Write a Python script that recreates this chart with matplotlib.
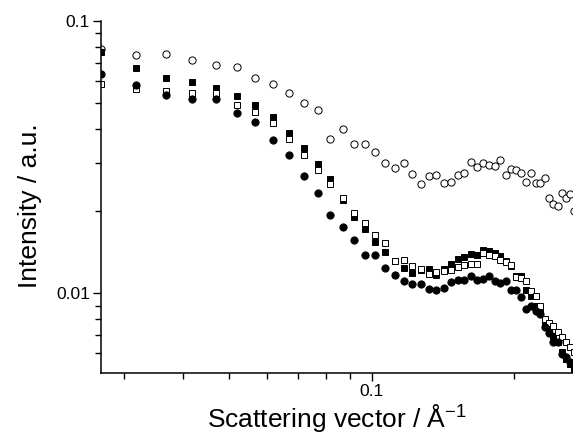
import matplotlib
matplotlib.use("Agg")
import matplotlib.pyplot as plt
from matplotlib.ticker import NullFormatter, FixedLocator, FixedFormatter

plt.rcParams['font.family'] = ['Liberation Sans', 'DejaVu Sans']
plt.rcParams['mathtext.fontset'] = 'custom'
plt.rcParams['mathtext.rm'] = 'Liberation Sans'
plt.rcParams['mathtext.it'] = 'Liberation Sans:italic'
plt.rcParams['mathtext.bf'] = 'Liberation Sans:bold'

q = [0.0268, 0.0318, 0.0368, 0.0418, 0.0468, 0.0518, 0.0568, 0.0618, 0.0668, 0.0718,
     0.0768, 0.0818, 0.0868, 0.0918, 0.0968, 0.1018, 0.1068, 0.1118, 0.1168, 0.1218,
     0.1268, 0.1318, 0.1368, 0.1418, 0.1468, 0.1518, 0.1568, 0.1618, 0.1668, 0.1718,
     0.1768, 0.1818, 0.1868, 0.1918, 0.1968, 0.2018, 0.2068, 0.2118, 0.2168, 0.2218,
     0.2268, 0.2318, 0.2368, 0.2418, 0.2468, 0.2518, 0.2568, 0.2618, 0.2668]

open_circles = [0.0787, 0.0746, 0.0754, 0.0715, 0.0686, 0.0676, 0.0616, 0.0587, 0.0541, 0.0499,
                0.0469, 0.0367, 0.0399, 0.0352, 0.0353, 0.0329, 0.0300, 0.0288, 0.0300, 0.0273,
                0.0252, 0.0270, 0.0272, 0.0254, 0.0256, 0.0272, 0.0275, 0.0303, 0.0291, 0.0300,
                0.0296, 0.0293, 0.0307, 0.0272, 0.0285, 0.0282, 0.0276, 0.0255, 0.0275, 0.0254,
                0.0254, 0.0264, 0.0223, 0.0213, 0.0208, 0.0233, 0.0224, 0.0232, 0.0200]

filled_squares = [0.0765, 0.0668, 0.0616, 0.0594, 0.0567, 0.0527, 0.0489, 0.0443, 0.0388, 0.0340,
                  0.0299, 0.0263, 0.0219, 0.0191, 0.0172, 0.0154, 0.01415, 0.01308, 0.01240, 0.01189,
                  0.01217, 0.01229, 0.01162, 0.01222, 0.01275, 0.01338, 0.01356, 0.01388, 0.01376, 0.01436,
                  0.01427, 0.01400, 0.01364, 0.01308, 0.01254, 0.01152, 0.01152, 0.01029, 0.00973, 0.00894,
                  0.00852, 0.00780, 0.00729, 0.00693, 0.00659, 0.00605, 0.00575, 0.00551, 0.00528]

open_squares = [0.0584, 0.0560, 0.0551, 0.0541, 0.0541, 0.0489, 0.0464, 0.0420, 0.0368, 0.0322,
                0.0284, 0.0252, 0.0224, 0.0196, 0.0181, 0.0163, 0.0153, 0.01316, 0.01327, 0.01254,
                0.01222, 0.01178, 0.01194, 0.01205, 0.01219, 0.01246, 0.01264, 0.01283, 0.01283, 0.01403,
                0.01376, 0.01370, 0.01327, 0.01305, 0.01268, 0.01145, 0.01139, 0.01104, 0.01017, 0.00978,
                0.00894, 0.00805, 0.00776, 0.00754, 0.00719, 0.00689, 0.00660, 0.00633, 0.00610]

filled_circles = [0.0635, 0.0580, 0.0533, 0.0515, 0.0515, 0.0460, 0.0425, 0.0364, 0.0321, 0.0269,
                  0.0233, 0.0193, 0.0175, 0.0157, 0.01385, 0.01385, 0.01240, 0.01162, 0.01107, 0.01076,
                  0.01083, 0.01038, 0.01023, 0.01047, 0.01095, 0.01114, 0.01120, 0.01152, 0.01114, 0.01126,
                  0.01159, 0.01107, 0.01092, 0.01111, 0.01029, 0.01029, 0.00967, 0.00873, 0.00894, 0.00856,
                  0.00840, 0.00750, 0.00711, 0.00660, 0.00660, 0.00595, 0.00582, 0.00557, 0.00542]

x_major_ticks = [0.1]
x_major_labels = ["0.1"]
x_minor_ticks = [0.03, 0.04, 0.05, 0.06, 0.07, 0.08, 0.09, 0.2]
y_major_ticks = [0.01, 0.1]
y_major_labels = ["0.01", "0.1"]
y_minor_ticks = [0.005, 0.006, 0.007, 0.008, 0.009, 0.02, 0.03, 0.04, 0.05, 0.06, 0.07, 0.08, 0.09]

fig = plt.figure(figsize=(5.73, 4.33), dpi=100)
ax = fig.add_axes([101/573, 1 - 372.7/433, 1 - 101/573, (372.7 - 20.7)/433])
ax.set_xscale('log')
ax.set_yscale('log')

kw = dict(linestyle='none', clip_on=True)
ax.plot(q, open_circles, marker='o', ms=5.2, mfc='white', mec='black', mew=0.7, **kw)
ax.plot(q, filled_squares, marker='s', ms=4.7, mfc='black', mec='black', mew=0.7, **kw)
ax.plot(q, open_squares, marker='s', ms=4.7, mfc='white', mec='black', mew=0.7, **kw)
ax.plot(q, filled_circles, marker='o', ms=5.2, mfc='black', mec='black', mew=0.7, **kw)

ax.set_xlim(0.0268, 0.266)
ax.set_ylim(0.0051, 0.1)

ax.xaxis.set_major_locator(FixedLocator(x_major_ticks))
ax.xaxis.set_major_formatter(FixedFormatter(x_major_labels))
ax.xaxis.set_minor_locator(FixedLocator(x_minor_ticks))
ax.xaxis.set_minor_formatter(NullFormatter())
ax.yaxis.set_major_locator(FixedLocator(y_major_ticks))
ax.yaxis.set_major_formatter(FixedFormatter(y_major_labels))
ax.yaxis.set_minor_locator(FixedLocator(y_minor_ticks))
ax.yaxis.set_minor_formatter(NullFormatter())

for s in ['top', 'right']:
    ax.spines[s].set_visible(False)
for s in ['left', 'bottom']:
    ax.spines[s].set_linewidth(1.1)

ax.tick_params(which='major', direction='out', length=6, width=1.0, labelsize=12.5, pad=2)
ax.tick_params(which='minor', direction='out', length=4, width=1.0)

ax.set_ylabel('Intensity / a.u.', fontsize=19)
ax.yaxis.set_label_coords(-0.125, 0.475)
ax.set_xlabel('Scattering vector / Å$^{\\mathregular{-1}}$', fontsize=19, labelpad=2)

fig.savefig('out.png', dpi=100)
